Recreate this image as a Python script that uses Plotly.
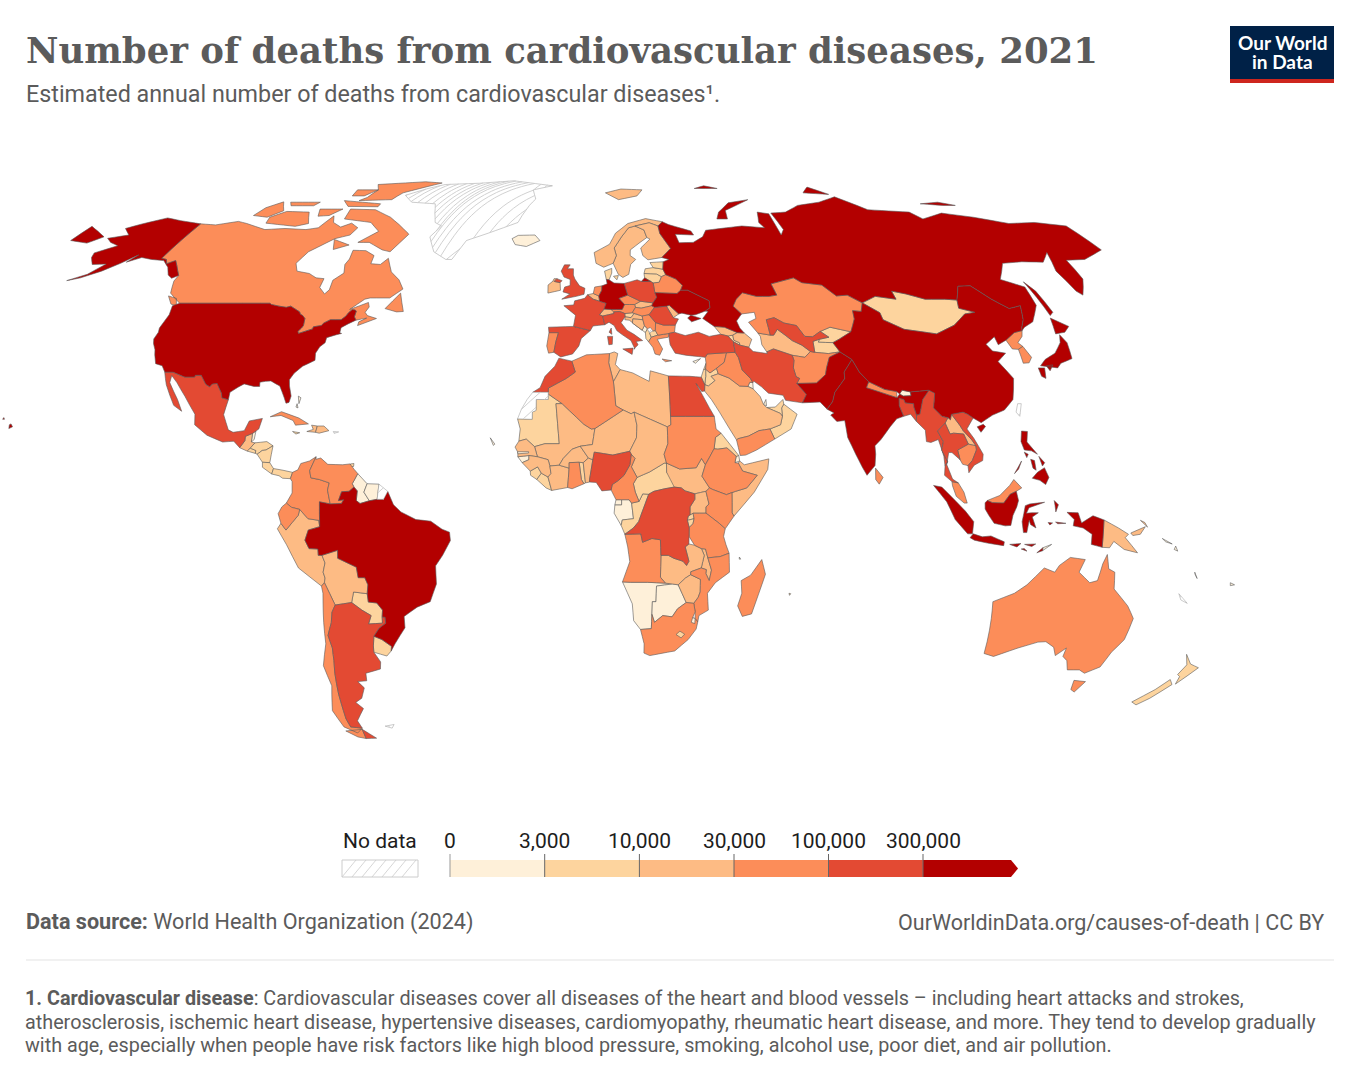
import json
import plotly.graph_objects as go

# plotly's own world topojson needs the network, so the country outlines below are
# rough hand-drawn lon/lat rings, fed to the choropleth as a custom geojson
outlines = {
    "USA": ["-124.7,48.4 -123,49 -95.2,49 -94.6,48.7 -92,48.3 -89.6,48 -88.4,48.3 -84.9,46.9 -84.5,46.4 -83.5,46 -82.5,45.3 -82.1,43.6 -82.4,43 -83.1,42.2 -82.7,41.7 -79,42.8 -79,43.3 -76.8,43.6 -76.3,44.2 -74.7,45 -71.5,45 -70.4,45.9 -70,46.7 -69.2,47.45 -68.3,47.35 -67.8,47.1 -67.8,45.7 -67,44.9 -69,44 -70.7,43.1 -70.6,41.9 -70,41.7 -71.4,41.4 -74,40.7 -74,39.5 -75.2,38.5 -75.9,37 -75.5,35.3 -77,34.6 -78.6,33.9 -80.5,32.2 -81.4,30.7 -81,29.2 -80,26.8 -80.3,25.3 -81.1,25.1 -81.9,26.5 -82.8,27.9 -83.7,29.2 -84.9,29.7 -86.5,30.4 -88,30.3 -89.5,30.1 -89.3,29.1 -90.9,29.1 -93.8,29.7 -95.3,28.9 -97.2,27.7 -97.2,25.95 -99.1,26.4 -99.5,27.5 -101.4,29.8 -102.7,29.7 -103.2,29 -104.5,29.6 -106.5,31.75 -108.2,31.75 -108.2,31.33 -111,31.33 -114.8,32.5 -117.1,32.5 -118.5,34 -120.6,34.5 -121.9,36.6 -122.5,37.8 -123.8,39.3 -124.4,40.4 -124.1,42 -124.5,43 -123.95,46.2",
            "-141,69.6 -141,60.3 -139,60 -137.5,58.9 -135.5,59.7 -133.5,58.4 -130,55.9 -131.5,55.2 -133.5,56 -136,58 -139.5,59.7 -144,60 -148,60.5 -151.5,59.3 -150,61.2 -153,59 -156.5,57 -161,55.3 -164.5,54.6 -160,56.2 -157.5,58.8 -162,58.7 -165,60.5 -166,61.7 -161,63.6 -165,64.5 -168,65.6 -162,66.5 -166.5,68.3 -163,69.5 -156.5,71.3 -150,70.5",
            "-155.9,19.1 -155,19.5 -155.6,20.2 -156,20", "-158.2,21.3 -157.7,21.3 -158,21.7"],
    "CAN": ["-141,69.6 -135,69.3 -128,70.3 -124,69.7 -115,68 -108,68.3 -100,68 -96,68.5 -94,71.9 -92,70 -88,68.7 -85,69.8 -81.5,68.5 -82.5,66.5 -87,65.5 -93,62 -94.5,59 -92.5,57 -88,56.4 -85,55.3 -82.3,55.1 -82.2,52.9 -79.7,51.3 -78.8,52.3 -79.2,54.7 -76.8,56.5 -78,58.7 -77.5,60.1 -78,62.4 -73.5,62.3 -69.8,61 -69.5,58.9 -66.2,58.7 -64.5,60.3 -61.5,56.8 -58,54.8 -55.7,52.5 -58.9,50.3 -65,50.3 -66.5,50 -70,47.5 -65,49.2 -64.3,48.1 -65,46.8 -64,46 -61,45.3 -66,43.6 -66,44.5 -64,45.4 -67,44.9 -67.8,45.7 -67.8,47.1 -68.3,47.35 -69.2,47.45 -70,46.7 -70.4,45.9 -71.5,45 -74.7,45 -76.3,44.2 -76.8,43.6 -79,43.3 -79,42.8 -82.7,41.7 -83.1,42.2 -82.4,43 -82.1,43.6 -82.5,45.3 -83.5,46 -84.5,46.4 -84.9,46.9 -88.4,48.3 -89.6,48 -92,48.3 -94.6,48.7 -95.2,49 -123,49 -125,50 -128,51.5 -130,54.5 -130,55.9 -133.5,58.4 -135.5,59.7 -137.5,58.9 -139,60 -141,60.3",
            "-123.5,48.4 -125.5,48.8 -128,50.8 -125,50.2", "-59.3,47.7 -56,51.5 -53.5,47 -55.5,46.9",
            "-61.5,66.7 -65,62 -68,62.5 -74,64.5 -78,64.5 -73,67.5 -78,70 -89,71 -90,73.9 -80,73.7 -72,71.5 -67,69.4 -62,67",
            "-117,69.8 -105,68.9 -101,69.7 -105,73 -114,73.2 -118,71.5", "-125,72 -119,71.5 -115.5,73.4 -120,76.1 -124,74.3",
            "-90,76.5 -77,76.8 -75,79 -62,82.6 -70,83.1 -90,82 -87,80 -88,77.5", "-96,76.5 -80,75.5 -80,74.6 -92,74.7",
            "-96,80 -87,80 -90,78 -95,78", "-102,73.9 -100,71.8 -96,72 -93,73.9", "-87,65.3 -80.5,63.8 -85,62.6",
            "-117,76 -105,76 -106,74.9 -115,74.9"],
    "MEX": ["-117.1,32.5 -114.8,32.5 -111,31.33 -108.2,31.33 -108.2,31.75 -106.5,31.75 -104.5,29.6 -103.2,29 -102.7,29.7 -101.4,29.8 -99.5,27.5 -99.1,26.4 -97.2,25.95 -97.8,22.4 -95.9,18.8 -94.5,18.2 -91.5,18.6 -90.5,20.9 -87,21.5 -87.6,19 -88.3,18.5 -89.15,17.95 -91,17.25 -91,16.2 -92.2,14.55 -94,16.1 -97,15.9 -101.5,17.5 -105.3,20 -105.7,22.5 -109.4,26.7 -112.7,30 -114.8,31.7 -114.7,30 -111.3,26 -109.5,23.2 -112,24.6 -115.5,29.5"],
    "GTM": ["-92.2,14.55 -91,16.2 -91,17.25 -89.15,17.95 -89.2,15.9 -88.2,15.7 -89.35,14.45 -90.1,13.75"],
    "BLZ": ["-88.3,18.5 -89.15,17.95 -89.2,15.9 -88.5,16.5"],
    "SLV": ["-90.1,13.75 -89.35,14.45 -87.75,13.9 -87.8,13.2"],
    "HND": ["-89.35,14.45 -88.2,15.7 -85,16 -83.2,15 -85,14 -86,13.9 -87.3,13 -87.8,13.2 -87.75,13.9"],
    "NIC": ["-87.3,13 -86,13.9 -85,14 -83.2,15 -83.7,11 -85.7,11.1"],
    "CRI": ["-85.7,11.1 -83.7,11 -82.6,9.6 -83,8.3 -85.6,9.9"],
    "PAN": ["-83,8.3 -82.6,9.6 -80,9.2 -77.4,8.7 -77.9,7.2 -80,7.3 -81,7.9"],
    "CUB": ["-84.9,21.9 -82,23.1 -77,21.6 -74.2,20.2 -77.7,19.9 -78.5,21 -82,22.2"],
    "HTI": ["-74.4,18.4 -72,18.2 -71.7,19.7 -73.3,19.9 -72.7,18.9"],
    "DOM": ["-71.7,19.7 -72,18.2 -71,18 -68.4,18.6 -69.9,19.7"],
    "JAM": ["-78.3,18.4 -76.3,18.1 -77.3,17.8"],
    "BHS": ["-78,26.8 -77.2,26.4 -77.5,25", "-78,25 -77.6,24 -78.2,24.2"],
    "TTO": ["-61.9,10.7 -60.95,10.8 -61,10.1 -61.9,10.05"],
    "COL": ["-71.3,12.4 -72.8,9.1 -72.4,7.4 -70.1,7 -67.4,6.2 -67.8,4.5 -67,1.2 -69.9,1.7 -69.9,-4.2 -70.1,-2.7 -73,-2.3 -75.2,-0.1 -77.4,0.4 -78.8,1.4 -77.3,3.8 -77.4,6.5 -77.9,7.2 -77.4,8.7 -76,9.3 -75.3,10.8 -73,11.4"],
    "VEN": ["-71.3,12.4 -71.3,11.8 -70,12.1 -68,10.6 -64,10.5 -62,10.7 -60.8,9.4 -59.8,8.4 -60.7,6.8 -61.2,6 -60.7,5.2 -62,4.2 -64,4.1 -64.8,2 -63.4,2.2 -64,1.3 -67,1.2 -67.8,4.5 -67.4,6.2 -70.1,7 -72.4,7.4 -72.8,9.1"],
    "GUY": ["-59.8,8.4 -57.2,6 -58,4 -56.5,1.95 -59,1.3 -60,2 -59.8,4.3 -60.7,5.2 -61.2,6 -60.7,6.8"],
    "SUR": ["-57.2,6 -54,5.9 -54.4,2.3 -56.5,1.95 -58,4"],
    "BRA": ["-51.6,4.2 -50,1 -48,-0.7 -44,-2.5 -40,-2.9 -37,-4.8 -35,-5.5 -34.8,-7.5 -37,-11 -39,-13.5 -39,-17.8 -41,-22 -44.7,-23.3 -48.5,-25.5 -48.6,-28.2 -52,-32 -53.4,-33.7 -53.1,-32.6 -55.5,-31 -57.6,-30.2 -55.8,-28.3 -53.8,-27.1 -53.8,-25.7 -54.6,-25.6 -54.3,-24 -55.7,-22.3 -58,-22.1 -58.1,-20.1 -57.7,-18 -58.4,-16.3 -60.2,-16.3 -60.5,-13.8 -65.4,-11.7 -65.3,-9.8 -69.6,-11 -70.6,-11 -70.6,-9.5 -73,-9.4 -74,-7.4 -73,-5 -69.9,-4.2 -69.9,1.7 -67,1.2 -64,1.3 -63.4,2.2 -64.8,2 -64,4.1 -62,4.2 -60.7,5.2 -59.8,4.3 -60,2 -59,1.3 -56.5,1.95 -54.4,2.3 -52.7,2.3"],
    "ECU": ["-75.2,-0.1 -77.4,0.4 -78.8,1.4 -80,0.5 -81,-1.1 -80.3,-3.4 -79,-5 -75.6,-1.5"],
    "PER": ["-75.2,-0.1 -75.6,-1.5 -79,-5 -80.3,-3.4 -81.3,-4.7 -79,-8.5 -76.2,-14 -70.4,-18.3 -69.5,-17.5 -69.2,-16.4 -69.6,-15 -68.9,-12.8 -69.6,-11 -70.6,-11 -70.6,-9.5 -73,-9.4 -74,-7.4 -73,-5 -69.9,-4.2 -70.1,-2.7 -73,-2.3"],
    "BOL": ["-69.6,-11 -68.9,-12.8 -69.6,-15 -69.2,-16.4 -69.5,-17.5 -68.4,-20 -67.2,-22.8 -62.6,-22.2 -61.8,-19.7 -58.1,-20.1 -57.7,-18 -58.4,-16.3 -60.2,-16.3 -60.5,-13.8 -65.4,-11.7 -65.3,-9.8"],
    "PRY": ["-62.6,-22.2 -61.8,-19.7 -58.1,-20.1 -58,-22.1 -55.7,-22.3 -54.3,-24 -54.6,-25.6 -54.7,-27.1 -58.6,-27.3 -57.6,-25.3 -60,-24"],
    "ARG": ["-67.2,-22.8 -62.6,-22.2 -60,-24 -57.6,-25.3 -58.6,-27.3 -54.7,-27.1 -54.6,-25.6 -53.8,-25.7 -53.8,-27.1 -55.8,-28.3 -57.6,-30.2 -58.2,-32.5 -58.4,-34 -57,-36.3 -57.5,-38 -62,-39 -62.3,-40.8 -65,-41 -63.6,-42.5 -65.3,-45 -67.5,-46 -65.8,-47.5 -69,-50.5 -68.4,-52.3 -71.9,-52 -72.3,-50 -71.8,-44 -71,-39 -70.3,-36 -69.9,-33 -70.4,-30 -68.9,-27 -68.3,-24.5",
            "-68.6,-52.6 -65.2,-54.8 -68.6,-54.9"],
    "CHL": ["-70.4,-18.3 -69.5,-17.5 -68.4,-20 -67.2,-22.8 -68.3,-24.5 -68.9,-27 -70.4,-30 -69.9,-33 -70.3,-36 -71,-39 -71.8,-44 -72.3,-50 -71.9,-52 -68.4,-52.3 -70.5,-53.5 -74,-52 -75.5,-48 -73,-42 -73.7,-37.2 -71.5,-32 -71,-27 -70.2,-20",
            "-68.6,-52.6 -68.6,-54.9 -71,-54.5 -74,-53"],
    "URY": ["-57.6,-30.2 -55.5,-31 -53.1,-32.6 -53.4,-33.7 -54.9,-34.9 -58.4,-34 -58.2,-32.5"],
    "GBR": ["-5.5,50 -1,50.7 1.4,51.2 1.7,52.7 0,53.3 -1.5,55 -2,56 -2,57.6 -4,57.6 -3.1,58.6 -5,58.6 -6,57 -5,55.5 -3,54.9 -3,53.4 -4.7,53 -5.2,51.8 -3,51.3",
            "-7.3,55.1 -5.6,54.6 -6.2,54.1 -8.1,54.4"],
    "IRL": ["-8.1,54.4 -6.2,54.1 -6,52.2 -9.9,51.5 -10,53.5 -8.5,54.5 -8.2,55.1 -7.3,55.1"],
    "PRT": ["-9,41.9 -6.2,41.9 -6.9,39.7 -7.4,37.2 -8.9,37 -9.5,38.7"],
    "ESP": ["-9,41.9 -9.2,43.2 -1.8,43.4 3.2,42.4 0.5,40.5 -0.2,38.7 -2,36.8 -5.4,36.1 -7.4,37.2 -6.9,39.7 -6.2,41.9"],
    "FRA": ["-1.8,43.4 3.2,42.4 4,43.5 7.5,43.8 7,45.9 6,46.2 7.5,47.6 8.2,49 6.2,49.5 4.2,50 2.5,51.1 1.6,50.2 -1.5,49.6 -1.8,48.6 -4.8,48.4 -1.2,46.1", "9.4,43 9.5,41.5 8.7,42"],
    "BEL": ["2.5,51.1 4.2,50 6.2,49.5 6,50.8 4.3,51.4"],
    "NLD": ["4.3,51.4 6,50.8 7,52.2 7.1,53.3 4.8,53"],
    "DEU": ["7.1,53.3 7,52.2 6,50.8 6.2,49.5 8.2,49 7.5,47.6 9.6,47.5 13,47.5 13.8,48.7 12.2,50.2 15,51 14.2,53.9 11,54 9.5,54.8 8.6,54.9 8.8,53.8"],
    "CHE": ["6,46.2 7,45.9 10.4,46.5 10.4,46.9 9.6,47.5 7.5,47.6"],
    "AUT": ["9.6,47.5 10.4,46.9 12.2,47 13.7,46.5 16,46.7 17.1,48 16.9,48.7 13.8,48.7 13,47.5"],
    "ITA": ["7.5,43.8 8.8,44.4 10.3,43.6 11,42.4 12.4,41.5 15,40 16,38 15.7,38 17,39 16.5,39.8 18.4,40 16,41.5 14,42.5 12.4,44.3 13.7,45.7 13.7,46.5 12.2,47 10.4,46.9 10.4,46.5 7,45.9",
            "12.5,38 15.5,38.2 15.1,36.7", "8.2,41 9.7,41 9.5,39.1 8.5,39"],
    "CZE": ["12.2,50.2 13.8,48.7 16.9,48.7 18.8,49.5 15,51"],
    "POL": ["14.2,53.9 15,51 18.8,49.5 22.6,49.1 24,50.5 23.6,51.6 23.5,54 22.8,54.4 19.8,54.4 18.5,54.8"],
    "SVK": ["16.9,48.7 17.1,48 18.8,47.8 22.1,48.4 22.6,49.1 18.8,49.5"],
    "HUN": ["16,46.7 18.9,45.9 21,46.2 22.9,48 22.1,48.4 18.8,47.8 17.1,48"],
    "SVN": ["13.7,45.7 15.5,45.5 16.5,46.5 16,46.7 13.7,46.5"],
    "HRV": ["13.7,45.7 15.5,45.5 16.5,46.5 18.9,45.9 19,45 16,45.2 15.8,44.2 18.5,42.5 14.9,44.9 13.6,45"],
    "BIH": ["16,45.2 19,45 19.3,43.6 18.5,42.5 15.8,44.2"],
    "SRB": ["18.9,45.9 21,46.2 22.7,44.3 22.4,42.4 21.6,42.3 21,43.1 20.1,42.8 19.3,43.6 19,45"],
    "MNE": ["18.5,42.5 19.3,43.6 20.1,42.8 19.4,41.9"],
    "ALB": ["19.4,41.9 20.1,42.8 20.6,41.9 21,40.8 20.1,39.7 19.4,40.5"],
    "MKD": ["20.6,41.9 21.6,42.3 22.4,42.4 23,41.3 21,40.8"],
    "GRC": ["20.1,39.7 21,40.8 23,41.3 26.3,41.7 26,40.8 23.8,40.5 22.7,40.3 24,38 23,36.5 21.7,36.8 21.2,38.4", "23.6,35.6 26.3,35.2 24.5,34.95"],
    "BGR": ["22.4,42.4 22.7,44.3 25,43.7 28.5,43.7 28,42 26.3,41.7 23,41.3"],
    "ROU": ["21,46.2 22.9,48 26.6,48.3 28.2,45.5 29.7,45.2 28.5,43.7 25,43.7 22.7,44.3"],
    "MDA": ["26.6,48.3 27.5,48.5 30,46.4 28.2,45.5"],
    "UKR": ["22.1,48.4 22.6,49.1 24,50.5 23.6,51.6 30.5,51.4 31.8,52.2 34,52.2 40,49.6 39.8,47.9 38.2,47.1 35,46.2 33.6,46.1 31,46.6 30,46.4 27.5,48.5 26.6,48.3 22.9,48", "33.6,46.1 36.5,45.3 33.5,44.5 32.5,45.4"],
    "BLR": ["23.6,51.6 30.5,51.4 31.8,52.2 32.7,53.4 31,55 28,56.1 26.5,55.6 25.5,54.2 23.5,54"],
    "LTU": ["21,55.3 21,56.4 25,56.3 26.5,55.6 25.5,54.2 23.5,54 22.8,54.4"],
    "LVA": ["21,56.4 21.6,57.6 24.3,57.9 27.4,57.5 28,56.1 26.5,55.6 25,56.3"],
    "EST": ["24.3,57.9 27.4,57.5 28,59.4 23.5,59.2"],
    "FIN": ["21.5,61 21.2,63 25,65.4 24,65.8 23.5,67.9 20.5,69 26,69.9 29,69 29,66.9 31.5,62.9 27.8,60.5 23,59.9"],
    "SWE": ["11.2,59 12.6,56.2 14,55.4 16,56.2 17,58.7 18.9,60 17.2,61 17.5,62.5 21.3,64.5 24,65.8 23.5,67.9 20.5,69 18,68.5 15,66 12,63 12.5,61"],
    "NOR": ["5,61.8 5.5,59 8,58 11.2,59 12.5,61 12,63 15,66 18,68.5 20.5,69 26,69.9 29,69 31,70.2 25,71.1 18,69.7 13,67 10.5,64", "11,79 16,76.8 24,78 27,80 18,80.3"],
    "DNK": ["8.6,54.9 9.5,54.8 10.5,56.5 10.6,57.7 8.2,57", "11,55.7 12.6,55.9 12,54.8"],
    "ISL": ["-24,65.5 -22,66.4 -16,66.5 -14,65 -18.5,63.4 -22.5,63.9"],
    "RUS": ["31,70.2 29,69 29,66.9 31.5,62.9 27.8,60.5 30,60 28,59.4 27.4,57.5 28,56.1 31,55 32.7,53.4 31.8,52.2 34,52.2 40,49.6 39.8,47.9 38.2,47.1 39,47 37,45.3 40,43.4 43,43.2 46.5,41.9 48.5,41.8 47.5,43 47,44.7 49,46.4 47,48.3 48.5,50 51,51.6 55,50.7 59,50.7 61.5,51 61,53.8 69,55.3 71,54.1 77,53.5 80,50.8 83.5,51 87,49.1 92,50.7 98,50 98,52 102,51.3 107,50 113,50 116.7,49.8 120,53.2 124,53.3 127.5,50 131,47.7 135,48.4 133,45 131,43 130.7,42.4 132,43.2 135.5,44.5 140,48.5 140.5,51 141,53 138,54 135.3,54.9 141,59 148,59.4 155,59.3 160,61.8 156,57 156,52 157,51 162,55 163.5,59.8 170,60 179.9,62.5 179.9,69 170,70 160,69.7 150,71.5 140,72.7 130,71 128,73 113,73.7 106,77.7 97,76 87,75 80,73 74,72.7 74.5,68 72.5,66.5 72.7,70 73,72.5 69,73 67,70 68,68.5 60,69 54,68.5 46,67.8 44,66 40,64.5 35,64.4 34.5,66.7 41,66.5 40.5,67.6 33,69.4",
            "-180,65 -180,68.9 -175,67.5 -170,66 -173,64.3", "52,71 56,71 57,73.5 69,76.8 60,75.8 54,73", "95,79 105,78.5 100,81",
            "142,54.3 143.3,52 143.5,46.8 142,46 142,50.5", "137,75.5 145,75 150,75 145,76", "50,80.5 60,80.5 55,81.5",
            "19.8,54.4 22.8,54.4 21,55.3"],
    "GEO": ["40,43.4 43,43.2 46.5,41.9 45,41.3 43.5,41.1 41.5,41.5"],
    "ARM": ["43.5,41.1 45,41.3 45,40.1 46.5,39.5 46.5,38.9 44.8,39.7"],
    "AZE": ["46.5,41.9 48.5,41.8 50.3,40.3 49,38.4 46.5,38.9 46.5,39.5 45,40.1 45,41.3"],
    "TUR": ["26.3,41.7 28,42 31,41.2 35,42 38,41 41.5,41.5 43.5,41.1 44.8,39.7 44.8,37.2 42.3,37.1 36.7,36.8 36,36 34,36.2 30.5,36.5 27.5,37 26.3,39 26.2,40.5"],
    "CYP": ["32.3,35 34.6,35.7 33,34.6"],
    "SYR": ["36,36 36.7,36.8 42.3,37.1 41.2,34.8 38.8,33.4 36.8,32.3 35.7,33.2 36,34.6"],
    "LBN": ["36,34.6 35.7,33.2 35.1,33.1"],
    "ISR": ["35.1,33.1 35.7,33.2 35.5,31.5 35,29.5 34.2,31.3"],
    "JOR": ["35.7,33.2 36.8,32.3 38.8,33.4 39.1,32.1 37,31.5 38,30.5 36,29.2 35,29.5 35.5,31.5"],
    "IRQ": ["42.3,37.1 44.8,37.2 45.5,35.9 46,33 48,31 48.5,30 47.7,30.1 47,29.1 44.7,29.2 42,31.1 39.1,32.1 38.8,33.4 41.2,34.8"],
    "KWT": ["48.5,30 47.7,30.1 47,29.1 48.4,28.5"],
    "SAU": ["35,29.5 36,29.2 38,30.5 37,31.5 39.1,32.1 42,31.1 44.7,29.2 47,29.1 48.4,28.5 50.1,26.7 50.8,24.8 51.6,24.1 55.2,22.7 55.7,22 55,20 52,19 49,18.6 46,17.3 43.2,16.7 42.7,16.4 41,19 38.5,23 36.5,26 34.8,28"],
    "YEM": ["43.2,16.7 46,17.3 49,18.6 52,19 53.1,16.6 48,14 45,12.8 43.5,12.7 42.7,16.4"],
    "OMN": ["55.7,22 55,20 52,19 53.1,16.6 57.8,19 59.8,22.5 56.4,24.9 55.7,24"],
    "ARE": ["51.6,24.1 54,24.2 56.3,26 56.4,24.9 55.7,24 55.7,22 55.2,22.7"],
    "QAT": ["50.8,24.8 51.6,26 51.6,24.5"],
    "IRN": ["44.8,39.7 46.5,38.9 49,38.4 50,37.4 54,36.9 53.9,37.3 56,38 61,36.5 61.2,35.3 60.6,33.5 60.9,31.4 61.8,31 60.8,29.8 63,27.2 61.6,25.2 57,25.8 56.5,27 52.5,27.5 50.8,29 48.9,30.3 48.5,30 48,31 46,33 45.5,35.9 44.8,37.2"],
    "TKM": ["53.9,37.3 52.9,39 53,41 52.5,41.8 56,41.3 57,41.3 58.5,42.7 60.5,41.2 62,40 64.5,38.9 66.5,37.4 64.5,36 61,36.5 56,38"],
    "UZB": ["56,41.3 56,45 58.5,45.5 61,44.2 64.5,43.6 66,41 68.3,40.9 71,42.2 73,40.8 70,40.3 68,39.8 67.7,37.2 66.5,37.4 64.5,38.9 62,40 60.5,41.2 58.5,42.7 57,41.3"],
    "KAZ": ["49,46.4 47,48.3 48.5,50 51,51.6 55,50.7 59,50.7 61.5,51 61,53.8 69,55.3 71,54.1 77,53.5 80,50.8 83.5,51 87,49.1 85.5,47 83,47.2 82.5,45.2 80,42.1 74.3,43.2 71,42.2 68.3,40.9 66,41 64.5,43.6 61,44.2 58.5,45.5 56,45 56,41.3 52.5,41.8 50.5,44.4 53,45.3 53,46.8"],
    "KGZ": ["71,42.2 74.3,43.2 80,42.1 76,40.4 73.7,39.5 69.5,39.6 70,40.3 73,40.8"],
    "TJK": ["67.7,37.2 68,39.8 70,40.3 69.5,39.6 73.7,39.5 75,37.3 71.5,36.9"],
    "AFG": ["61.2,35.3 61,36.5 64.5,36 66.5,37.4 67.7,37.2 71.5,36.9 75,37.3 71.5,36 70,33.5 69.3,31.9 66.3,29.9 60.8,29.8 61.8,31 60.9,31.4 60.6,33.5"],
    "PAK": ["61.6,25.2 63,27.2 60.8,29.8 66.3,29.9 69.3,31.9 70,33.5 71.5,36 75,37.3 77.8,35.5 74.7,32.5 74.5,31 71,27.7 70,25.5 68.2,23.7 66.5,25.4"],
    "IND": ["68.2,23.7 70,25.5 71,27.7 74.5,31 74.7,32.5 77.8,35.5 79,32.5 81,30.2 80,28.8 88,26.4 88.9,27.3 89.8,26.8 92,26.9 92,27.8 97.3,28.2 95,26 93.5,22.5 92.6,22.3 92.2,24.2 92.3,25 90,25.2 89.8,26 88.5,26.3 88.2,24.5 89,22 87,21.4 85,19.6 82,16.5 80.2,15 80.2,13 79.8,10.3 77.5,8 76.3,10 74.8,13 73,17 72.7,21 70.5,20.8 69,22.3 70,22.8"],
    "BGD": ["89.8,26 90,25.2 92.3,25 92.2,24.2 92.6,22.3 92.3,20.8 91,22.5 89,22 88.2,24.5 88.5,26.3"],
    "NPL": ["80,28.8 81,30.2 85,28.4 88.2,27.9 88,26.4"],
    "BTN": ["88.9,27.3 89.8,28.2 92,27.8 92,26.9 89.8,26.8"],
    "LKA": ["79.9,9.7 81.8,7.5 80.7,5.9 79.8,7"],
    "CHN": ["73.7,39.5 76,40.4 80,42.1 82.5,45.2 83,47.2 85.5,47 87,49.1 91,46.7 91,45 96,42.7 105,41.6 111.5,43.7 116.5,46.4 119.9,46.8 115.7,47.8 116.7,49.8 120,53.2 124,53.3 127.5,50 131,47.7 135,48.4 133,45 131,43 130.7,42.4 128,41.9 124.4,40.1 121.5,39 121.5,40.9 118,39.1 119,37.5 122.5,37 119.3,35 121.9,31 120,26 117,23.5 113.5,22.3 110,20.5 108,21.6 106.7,22.5 105.5,23 102.2,22.5 101.7,21.2 101.1,21.7 99.5,22 97.6,24 98.7,27.5 97.3,28.2 92,27.8 89.8,28.2 88.9,27.3 88.2,27.9 85,28.4 81,30.2 79,32.5 77.8,35.5 75,37.3",
            "108.7,19.5 110.5,20.1 111,19.6 109.5,18.2"],
    "MNG": ["87,49.1 92,50.7 98,50 98,52 102,51.3 107,50 113,50 116.7,49.8 115.7,47.8 119.9,46.8 116.5,46.4 111.5,43.7 105,41.6 96,42.7 91,45 91,46.7"],
    "PRK": ["124.4,40.1 128,41.9 130.7,42.4 129.7,41 127.5,39.5 128.4,38.6 126.7,37.9 125,38"],
    "KOR": ["126.7,37.9 128.4,38.6 129.4,36 128,34.7 126.3,34.6"],
    "JPN": ["130.9,34 135.5,33.5 137,34.6 140.8,35.7 141.8,39.5 141,41.4 139.8,39.5 136.7,37 133,35.5", "140,41.6 141.5,45.4 145.3,43.4 143,42", "130,33.5 131.8,33.5 131,31 130,31.5", "132.5,34 134.5,34.2 133,32.8"],
    "MMR": ["92.3,20.8 92.6,22.3 93.5,22.5 95,26 97.3,28.2 98.7,27.5 97.6,24 99.5,22 101.1,21.7 100.1,20.4 97.7,18.5 98.9,16 98.2,14 99.5,11.2 98.7,10.2 98.6,12.5 97.6,16.5 95.5,15.8 94.3,16 94.4,18.7"],
    "THA": ["100.1,20.4 101,17.8 102,18 104.7,17.8 105.6,15.4 102.5,14 102.9,11.7 100.9,13.4 100,13.4 99.2,10.5 100.5,7.1 102,6.2 100.3,6.5 98.4,8 98.7,10.2 99.5,11.2 98.2,14 98.9,16 97.7,18.5"],
    "LAO": ["100.1,20.4 101.1,21.7 101.7,21.2 102.2,22.5 104,19.9 104.7,18.6 106.7,16.4 107.6,15 105.6,15.4 104.7,17.8 102,18 101,17.8"],
    "VNM": ["102.2,22.5 105.5,23 106.7,22.5 108,21.6 105.8,19 107.3,16.8 109.3,13 109,11.5 106.6,10.4 105,8.6 104.9,10.3 106.2,11.5 107.6,14 107.6,15 106.7,16.4 104.7,18.6 104,19.9"],
    "KHM": ["102.9,11.7 102.5,14 105.6,15.4 107.6,15 107.6,14 106.2,11.5 104.9,10.3 103.5,10.6"],
    "MYS": ["100.3,6.5 102,6.2 103.4,4 104.2,1.4 103.4,1.4 101.3,3 100.4,5.5",
            "109.6,2 111,1.5 114,1.4 115.8,3.5 117.5,4.2 119,5 117,7 115.8,5.6 113,3.2 111.5,2.7"],
    "IDN": ["109,1.5 109.6,2 111,1.5 114,1.4 115.8,3.5 117.5,4.2 118,2 117.5,0.5 116.5,-1.5 116,-3.9 114.5,-4 111.5,-3.4 110,-1.5 109,0",
            "95.3,5.6 97.5,5.2 103.7,-0.5 106,-3 105.8,-5.9 104.5,-5.9 101,-2.5 98.7,1.7",
            "105.2,-6.8 106,-5.9 108.5,-6.6 110.8,-6.4 114.5,-7.8 114.4,-8.7 110,-8.1 106.4,-7.4",
            "119.5,-5.6 119,-3 119.8,0.8 121,1.2 125,1.6 120.8,0.3 120.1,-1 121.5,-0.9 123.3,-0.9 121.7,-1.9 122.8,-4.5 121.3,-3.7 120.9,-2.7 120.4,-5.6",
            "123.5,-10.4 125,-9.2 125,-9.9", "116,-8.4 119,-8.2 118,-9", "120,-8.4 123,-8.3 122,-8.9", "119.2,-9.5 120.8,-10 120,-9.4",
            "127.6,2 128.7,1 128,-0.7 127.8,0.8", "128,-3.1 130.8,-3.4 128.6,-3.5", "126,-3.2 127.2,-3.3 126.5,-3.8",
            "141,-2.6 138,-1.6 135,-3.3 134,-0.9 131,-0.8 133,-2.5 132.8,-4 135.5,-4.5 138,-6 138,-8.4 141,-9.1"],
    "TLS": ["125,-9.2 127.3,-8.4 125,-9.9"],
    "PNG": ["141,-2.6 145,-4.5 147.8,-6 147,-6.8 150.7,-10.4 147,-9.6 144,-7.7 143,-9.2 141,-9.1", "148.4,-5.7 152.2,-4.2 151,-6 149,-6.3", "150.8,-2.7 152.8,-4.3 152,-3.2"],
    "SLB": ["157,-7 159.8,-8.3 158,-7.8", "160.8,-8.8 161.5,-10 160.5,-9.6"],
    "VUT": ["167.2,-15.5 167,-15 168,-16.5"],
    "FJI": ["177.3,-17.5 178.6,-18 177.5,-18.2"],
    "PHL": ["120.6,18.5 122.2,18.4 121.6,15.9 124,13 122.5,13.8 120.6,14 120,16", "122,7.3 123.5,8.7 125.5,9.8 126.5,7.5 125.5,5.8 124,6.8",
            "117.3,8.4 119.5,11.4 118.5,9.5", "124.3,12.5 125.7,11 125,10.2", "122,11.8 123,11.5 123.2,9.2 122.4,9.7", "120.5,13.5 121.5,13 121,12.2"],
    "AUS": ["113.5,-22 114,-26 115,-34.3 118,-35 124,-33 129,-31.6 131.2,-31.5 134,-32.8 135.5,-34.8 137.7,-33 137.8,-35 139.5,-36 141,-38.2 144.5,-38.2 146.5,-39 150,-37.5 151,-34 153,-31 153.3,-26 150.8,-23 146,-19 145.3,-15 143.5,-14.2 142.6,-10.8 141.7,-13 141,-17 139,-17.5 135.6,-15 136.8,-12 132.7,-11.5 130,-13.4 129,-15 126,-14 122,-18 119,-20",
            "144.7,-40.7 148.3,-41 147,-43.5 145.5,-42.9"],
    "NZL": ["172.7,-34.5 175.5,-36.8 178.5,-37.7 175.2,-41.6 174.8,-39.8 173.8,-39.3 174.6,-37", "172.7,-40.5 174.3,-41.7 171,-45 168.5,-46.6 166.5,-45.9 170.5,-42.9"],
    "MAR": ["-5.9,35.8 -2.2,35.1 -1.2,32.5 -3.7,31 -8.7,28.7 -8.7,27.7 -13,27.7 -11,28.8 -9.7,31.5 -7,33.9"],
    "DZA": ["-2.2,35.1 2,36.6 8.6,36.9 8.3,34.7 9,32.1 9.5,30.2 10,24.5 12,23.5 4.2,19.1 3.2,19 1.2,20.1 -4.8,25 -8.7,27.3 -8.7,27.7 -8.7,28.7 -3.7,31 -1.2,32.5"],
    "TUN": ["8.6,36.9 10,37.3 11,36.9 10.2,34.3 11.5,33.1 9.5,30.2 9,32.1 8.3,34.7"],
    "LBY": ["11.5,33.1 15,32.3 19.5,30.3 20,32.8 25,31.6 25,22 25,20 24,19.5 15,23 14.2,22.6 12,23.5 10,24.5 9.5,30.2"],
    "EGY": ["25,31.6 31,31.5 34.2,31.3 35,29.5 34.8,28 34,27.9 32.6,29.8 35.8,24 37,22 31.2,22 25,22"],
    "SDN": ["25,22 31.2,22 37,22 37.3,19 38.6,18 37,17 36.5,14.3 34,10.5 33,12 31.5,9.8 27,9.5 23.5,10.9 22.9,13 24,15.5 24,19.5 25,20"],
    "SSD": ["23.5,10.9 27,9.5 31.5,9.8 33,12 34,10.5 33,7.8 35,5 34,4.2 31,3.6 28.4,4.3 27.4,5 25.5,5.2 23.5,8.7"],
    "ERI": ["36.5,14.3 37,17 38.6,18 43.1,12.7 42.4,12.5 40,14.5 37.5,14.2"],
    "DJI": ["42.4,12.5 43.1,12.7 43.3,11.4 42,11"],
    "ETH": ["36.5,14.3 37.5,14.2 40,14.5 42.4,12.5 42,11 42.9,10.9 44,9 47.9,8 45,5 42,4.2 41,3.9 39.5,3.4 35.9,4.6 35,5 33,7.8 34,10.5"],
    "SOM": ["43.3,11.4 44.5,10.5 51.2,11.9 50.8,9.4 47,4 41.5,-1.7 41,-0.9 41,3.9 42,4.2 45,5 47.9,8 44,9 42.9,10.9"],
    "KEN": ["35,5 35.9,4.6 39.5,3.4 41,3.9 41,-0.9 41.5,-1.7 39.2,-4.7 37.7,-3.5 34,-1 34,0.5 34.8,1.2 34,4.2"],
    "UGA": ["31,3.6 34,4.2 34.8,1.2 34,0.5 34,-1 30.5,-1 29.7,-1.4 29.7,0.5 31,2.3"],
    "RWA": ["29.7,-1.4 30.5,-1 30.8,-2.3 29,-2.7 29.2,-1.7"],
    "BDI": ["29,-2.7 30.8,-2.3 30.5,-3.5 29.5,-4.4"],
    "TZA": ["30.5,-1 34,-1 37.7,-3.5 39.2,-4.7 38.8,-6.5 39.5,-8.5 40.4,-10.5 38,-11.3 34.7,-11.6 34,-9.5 32.9,-9.4 31,-8.6 29.5,-6.5 29.5,-4.4 30.5,-3.5 30.8,-2.3"],
    "MOZ": ["40.4,-10.5 40.7,-15 37,-17.5 35,-20 35.5,-24 33,-25.3 32.8,-26.8 32,-26 31.9,-24.4 31.4,-22.4 32.5,-21 33,-19.7 32.9,-16.7 30.2,-15.6 30.2,-14.9 33,-14 34.4,-14.4 34.3,-15.3 35.3,-17 35.8,-14.5 34.7,-11.6 38,-11.3"],
    "MWI": ["34,-9.5 34.7,-11.6 35.8,-14.5 35.3,-17 34.3,-15.3 34.4,-14.4 33,-14 33.7,-11 32.9,-9.4"],
    "ZMB": ["22,-11 24,-11 25.5,-11.7 28,-12.4 29,-13.4 29.6,-12.4 28.5,-9 29.5,-8.3 31,-8.6 32.9,-9.4 33.7,-11 33,-14 30.2,-14.9 30.2,-15.6 28.8,-16.4 26.9,-18 25.3,-17.8 23.4,-17.6 22,-16.2"],
    "COD": ["12.2,-6 16.5,-5.9 17,-7.9 19.5,-7 21.8,-7.3 22,-11 24,-11 25.5,-11.7 28,-12.4 29,-13.4 29.6,-12.4 28.5,-9 29.5,-8.3 29.5,-6.5 29.5,-4.4 29,-2.7 29.2,-1.7 29.7,-1.4 29.7,0.5 31,2.3 31,3.6 28.4,4.3 27.4,5 25.5,5.2 22.9,4.8 20,4.2 18.6,3.5 16.5,-1.5 15.9,-3 14.5,-4.5"],
    "COG": ["11.2,-3.9 12.2,-6 14.5,-4.5 15.9,-3 16.5,-1.5 18.6,3.5 17,3.6 16,1.8 14,1.4 14.5,-2.3 11.5,-2.6"],
    "GAB": ["9.3,-1 9.5,1 11.3,1 11.3,2.2 13.3,2.2 14,1.4 14.5,-2.3 11.5,-2.6 11.2,-3.9"],
    "GNQ": ["9.5,1 9.8,2.2 11.3,2.2 11.3,1"],
    "CMR": ["8.5,4.5 9.8,2.2 11.3,2.2 13.3,2.2 14,1.4 16,1.8 15,4 14.5,6 15.5,7.5 14,10 15,12 14,13 13.6,10.5 12,8 10.5,6.8 8.8,5.8"],
    "CAF": ["14.5,6 15,4 16,1.8 17,3.6 18.6,3.5 20,4.2 22.9,4.8 25.5,5.2 27.4,5 23.5,8.7 23.5,10.9 22.9,10.9 18.9,8.8 15.5,7.5"],
    "AGO": ["12.2,-6 16.5,-5.9 17,-7.9 19.5,-7 21.8,-7.3 22,-11 22,-16.2 23.4,-17.6 18.5,-17.4 13.9,-17.4 11.7,-17.3 13.6,-12.5 13,-9"],
    "NAM": ["11.7,-17.3 13.9,-17.4 18.5,-17.4 23.4,-17.6 25.3,-17.8 21,-18.3 21,-22 20,-22 20,-25 20,-28.4 17,-28.6 15,-26.5 14.5,-22.5"],
    "BWA": ["21,-18.3 25.3,-17.8 26.9,-18 29.3,-22.2 27,-23.7 25.6,-25.6 23,-25.3 20.8,-26.9 20,-25 20,-22 21,-22"],
    "ZWE": ["26.9,-18 28.8,-16.4 30.2,-15.6 32.9,-16.7 33,-19.7 32.5,-21 31.4,-22.4 29.3,-22.2"],
    "ZAF": ["17,-28.6 20,-28.4 20,-25 20.8,-26.9 23,-25.3 25.6,-25.6 27,-23.7 29.3,-22.2 31.4,-22.4 31.9,-24.4 31.3,-25.8 32,-26 32.8,-26.8 32.5,-28.5 30.5,-31 27,-33.7 25,-34 20,-34.8 18.3,-34.2 18.2,-32"],
    "LSO": ["28,-29 29.4,-29.7 28.5,-30.6 27,-29.8"],
    "SWZ": ["31.3,-25.8 32,-26 32,-27.2 31,-26.9"],
    "MDG": ["49.3,-12 50.5,-15.5 47.5,-24.9 45,-25.5 43.5,-23 44.4,-20 44,-17 46.5,-15.7"],
    "MRT": ["-17,21.4 -13,21.3 -13,23 -12,23.4 -12,26 -8.7,26 -8.7,27.3 -4.8,25 -6.5,25 -5.5,15.5 -9.4,15.5 -12.2,14.8 -14.5,16.6 -16.5,16.1 -16.2,19"],
    "MLI": ["-4.8,25 -6.5,25 -5.5,15.5 -9.4,15.5 -12.2,14.8 -11.4,12.4 -8.5,11.7 -8,10.2 -5.5,10.4 -4.4,12 -2,14.2 0.2,14.9 3.5,15.3 4.2,19.1 3.2,19 1.2,20.1"],
    "SEN": ["-16.5,16.1 -14.5,16.6 -12.2,14.8 -11.4,12.4 -13.7,12.7 -16.7,12.4 -16.7,13.1 -16.8,13.6 -17.5,14.7"],
    "GMB": ["-16.8,13.6 -13.8,13.6 -13.8,13.3 -16.7,13.1"],
    "GNB": ["-16.7,12.4 -13.7,12.7 -13.7,11.7 -15.5,11"],
    "GIN": ["-13.7,12.7 -11.4,12.4 -8.5,11.7 -8,10.2 -7.7,8.4 -8.5,7.6 -10.3,8.5 -11.3,10 -13.3,9 -15.5,11 -13.7,11.7"],
    "SLE": ["-13.3,9 -11.3,10 -10.3,8.5 -11.5,7 -13.2,8"],
    "LBR": ["-11.5,7 -10.3,8.5 -8.5,7.6 -7.5,4.4 -9,5"],
    "CIV": ["-8.5,7.6 -7.7,8.4 -8,10.2 -5.5,10.4 -2.8,9.7 -3.2,5.1 -7.5,4.4"],
    "BFA": ["-5.5,10.4 -4.4,12 -2,14.2 0.2,14.9 2.4,12.1 1,11 -0.1,11.1 -2.8,11 -2.8,9.7"],
    "GHA": ["-2.8,11 -0.1,11.1 0.5,7 1.2,6 -2,4.8 -3.2,5.1 -2.8,9.7"],
    "TGO": ["-0.1,11.1 1,11 1.6,6.2 1.2,6 0.5,7"],
    "BEN": ["1,11 2.4,12.1 3.6,11.7 2.7,7 2.7,6.4 1.6,6.2"],
    "NGA": ["2.7,6.4 2.7,7 3.6,11.7 4,13.5 9,12.8 13.6,13.7 14,13 13.6,10.5 12,8 10.5,6.8 8.8,5.8 8.5,4.5 6,4.3 4.5,6.3"],
    "NER": ["0.2,14.9 3.5,15.3 4.2,19.1 12,23.5 14.2,22.6 15,23 15.7,19.9 15.5,16.9 13.6,13.7 9,12.8 4,13.5 3.6,11.7 2.4,12.1"],
    "TCD": ["15,23 24,19.5 24,15.5 22.9,13 23.5,10.9 22.9,10.9 18.9,8.8 15.5,7.5 14,10 15,12 14,13 13.6,13.7 15.5,16.9 15.7,19.9"],
    "CPV": ["-24.3,16.9 -23.4,15.1 -23,15.4"],
    "MUS": ["57.3,-20 57.8,-20.1 57.5,-20.5"],
    "COM": ["43.2,-11.4 43.6,-11.9 43.2,-11.9"],
    "WSM": ["-172.7,-13.5 -171.5,-13.9 -172.3,-13.9"],
}

band_0_3k = ["ISL", "BHS", "BLZ", "GUY", "SUR", "CYP", "MNE", "KWT", "QAT", "BTN", "TLS", "SLB", "VUT", "FJI", "DJI", "GAB", "GNQ", "NAM", "BWA", "SWZ", "GMB", "GNB", "CPV", "COM", "WSM"]
band_3k_10k = ["JAM", "TTO", "SLV", "HND", "NIC", "CRI", "PAN", "PRY", "URY", "SVN", "ALB", "MKD", "LTU", "LVA", "EST", "DNK", "ARM", "LBN", "JOR", "ISR", "OMN", "ARE", "KGZ", "TJK", "MNG", "NZL", "ERI", "RWA", "BDI", "COG", "CAF", "LSO", "MRT", "SLE", "LBR", "TGO", "MUS"]
band_10k_30k = ["GTM", "HTI", "DOM", "PER", "BOL", "IRL", "BEL", "CHE", "SVK", "HRV", "BIH", "MDA", "SWE", "NOR", "FIN", "GEO", "AZE", "SAU", "TKM", "LAO", "PNG", "TUN", "LBY", "SSD", "SOM", "UGA", "MWI", "ZMB", "ZWE", "MLI", "SEN", "GIN", "CIV", "BFA", "BEN", "NER", "TCD"]
band_30k_100k = ["CAN", "CUB", "COL", "VEN", "ECU", "CHL", "PRT", "NLD", "AUT", "CZE", "HUN", "SRB", "GRC", "BGR", "BLR", "SYR", "IRQ", "YEM", "KAZ", "AFG", "NPL", "LKA", "PRK", "KOR", "KHM", "MYS", "AUS", "DZA", "SDN", "ETH", "KEN", "TZA", "MOZ", "CMR", "AGO", "ZAF", "MDG", "GHA"]
band_100k_300k = ["MEX", "ARG", "GBR", "ESP", "FRA", "ITA", "POL", "ROU", "TUR", "IRN", "UZB", "BGD", "MMR", "THA", "VNM", "MAR", "EGY", "COD", "NGA"]
band_300k_up = ["USA", "BRA", "RUS", "DEU", "UKR", "PAK", "IND", "CHN", "JPN", "IDN", "PHL"]
bands = [band_0_3k, band_3k_10k, band_10k_30k, band_30k_100k, band_100k_300k, band_300k_up]

band_colors = ["#fef0d9", "#fdd49e", "#fdbb84", "#fc8d59", "#e34a33", "#b30000"]
legend_ticks = ["0", "3,000", "10,000", "30,000", "100,000", "300,000"]

no_data = {
    "GRL": ["-73,78.2 -68,76 -58,75.5 -54,70 -51,69 -53.5,66 -50,62 -45,60 -43,60 -40,65 -33,67 -23,70 -22,72 -20,75 -18,77 -20,80 -12,81.5 -30,83.5 -45,82.5 -60,82 -66,80.5"],
    "ESH": ["-13,27.7 -8.7,27.7 -8.7,26 -12,26 -12,23.4 -13,23 -13,21.3 -17,21.4 -16,23.7 -14.5,26"],
    "GUF": ["-54,5.9 -51.6,4.2 -52.7,2.3 -54.4,2.3"],
    "TWN": ["121,25 122,25 120.9,22 120.1,23"],
    "XKX": ["20.1,42.8 21,43.1 21.6,42.3 20.6,41.9"],
    "FLK": ["-61,-51.8 -58,-51.4 -59,-52.3"],
    "PRI": ["-67.2,18.4 -65.7,18.3 -66.9,17.95"],
    "NCL": ["164,-20.1 167,-22.4 165,-21.6"],
}


def parse_ring(text):
    pts = [[float(v) for v in p.split(",")] for p in text.split()]
    # d3 wants the outer ring clockwise or it fills the rest of the globe
    area = sum(a[0] * b[1] - b[0] * a[1] for a, b in zip(pts, pts[1:] + pts[:1]))
    if area > 0:
        pts.reverse()
    # split long edges, d3 bends them along great circles and borders like 49N bow upwards
    out = []
    for a, b in zip(pts, pts[1:] + pts[:1]):
        n = int(max(abs(b[0] - a[0]), abs(b[1] - a[1])) // 3) + 1
        for k in range(n):
            out.append([a[0] + (b[0] - a[0]) * k / n, a[1] + (b[1] - a[1]) * k / n])
    return out + [out[0]]


def make_geojson(table):
    feats = []
    for code, rings in table.items():
        coords = [[parse_ring(r)] for r in rings]
        feats.append({"type": "Feature", "id": code, "properties": {}, "geometry": {"type": "MultiPolygon", "coordinates": coords}})
    return {"type": "FeatureCollection", "features": feats}


def hatch_lines(table, step=2.7, squeeze=0.8):
    # diagonal hatching clipped to each no data ring
    lons, lats = [], []
    for rings in table.values():
        for text in rings:
            pts = parse_ring(text)
            us = [p[1] - p[0] * squeeze for p in pts]
            k = int(min(us) // step)
            while k * step < max(us):
                u = k * step + step / 2
                hits = []
                for a, b, ua, ub in zip(pts, pts[1:], us, us[1:]):
                    if (ua - u) * (ub - u) < 0:
                        t = (u - ua) / (ub - ua)
                        hits.append((a[0] + t * (b[0] - a[0]), a[1] + t * (b[1] - a[1])))
                hits.sort()
                for p, q in zip(hits[::2], hits[1::2]):
                    lons += [p[0], q[0], None]
                    lats += [p[1], q[1], None]
                k += 1
    return lons, lats


codes = []
levels = []
for i, band in enumerate(bands):
    for c in band:
        codes.append(c)
        levels.append(i)
# enclaves have to be drawn after the country around them
order = sorted(range(len(codes)), key=lambda k: codes[k] in ("LSO", "SWZ", "GMB"))
codes = [codes[k] for k in order]
levels = [levels[k] for k in order]

fig = go.Figure()
fig.add_trace(go.Choropleth(
    geojson=make_geojson(outlines), locations=codes, z=levels, featureidkey="id",
    zmin=0, zmax=5, showscale=False,
    colorscale=[[i / 5, c] for i, c in enumerate(band_colors)],
    marker_line_color="#5b5b5b", marker_line_width=0.6,
))
fig.add_trace(go.Choropleth(
    geojson=make_geojson(no_data), locations=list(no_data), z=[0] * len(no_data), featureidkey="id",
    showscale=False, colorscale=[[0, "white"], [1, "white"]],
    marker_line_color="#999999", marker_line_width=0.5,
))
hatch_lon, hatch_lat = hatch_lines(no_data)
fig.add_trace(go.Scattergeo(lon=hatch_lon, lat=hatch_lat, mode="lines", line=dict(color="#cccccc", width=0.9), hoverinfo="skip", showlegend=False))

W, H = 1360, 1082
map_mid_y = 509
fig.update_geos(
    # domain centred on the equator's row, plotly clips the map to the fitted box otherwise
    domain=dict(x=[0, 1], y=[1 - (map_mid_y + 400) / H, 1 - (map_mid_y - 400) / H]),
    projection=dict(type="robinson", rotation=dict(lon=0), scale=0.985),
    center=dict(lon=27, lat=0),
    lonaxis=dict(range=[-180, 180], showgrid=False), lataxis=dict(range=[-90, 90], showgrid=False),
    showframe=False, showcoastlines=False, showland=False, showocean=False, showlakes=False, showcountries=False,
    bgcolor="rgba(0,0,0,0)",
)


def px(x):
    return x / W


def py(y):
    return 1 - y / H


def note(text, x, y, size, color="#5b5b5b", family="Roboto", anchor="left", height=None):
    fig.add_annotation(text=text, x=px(x), y=py(y), xref="paper", yref="paper", showarrow=False,
                       xanchor=anchor, yanchor="middle", align=anchor, height=height,
                       font=dict(family=family, size=size, color=color), borderpad=0, borderwidth=0)


def box(x0, y0, x1, y1, fill, line=None, width=0):
    fig.add_shape(type="rect", xref="paper", yref="paper", x0=px(x0), x1=px(x1), y0=py(y1), y1=py(y0),
                  fillcolor=fill, line=dict(color=line, width=width) if line else dict(width=0))


def segment(x0, y0, x1, y1, color, width=1):
    fig.add_shape(type="line", xref="paper", yref="paper", x0=px(x0), x1=px(x1), y0=py(y0), y1=py(y1),
                  line=dict(color=color, width=width))


note("<b>Number of deaths from cardiovascular diseases, 2021</b>", 26, 50, 35.5, family="DejaVu Serif")
note("Estimated annual number of deaths from cardiovascular diseases¹.", 26, 94, 23.3)

# logo
box(1230, 26, 1334, 79, "#002147")
box(1230, 79, 1334, 83, "#ce261e")
note("<b>Our World</b>", 1282, 43, 19, color="white", family="Lato", anchor="center", height=17)
note("<b>in Data</b>", 1282, 62, 19, color="white", family="Lato", anchor="center", height=17)

# legend
tick_x = [450, 544.7, 639.4, 734, 828.5, 923]
bar_end = [544.7, 639.4, 734, 828.5, 923, 1011]
for i, c in enumerate(band_colors):
    box(tick_x[i], 860, bar_end[i], 877, c)
fig.add_shape(type="path", xref="paper", yref="paper", fillcolor=band_colors[-1], line=dict(width=0),
              path=f"M {px(1011)} {py(860)} L {px(1018)} {py(868.5)} L {px(1011)} {py(877)} Z")
for x, label in zip(tick_x, legend_ticks):
    segment(x, 854, x, 877, "#999999" if x == 450 else "#666666", 1)
    note(label, x, 841, 21, color="#1d1d1d", anchor="center")
note("No data", 380, 841, 21, color="#1d1d1d", anchor="center")
box(342, 860, 418, 877, "white", "#cccccc", 1)
for x in range(342, 412, 10):
    segment(x, 877, min(x + 14, 418), 860, "#cccccc", 0.8)

# footer
note("<b>Data source:</b> World Health Organization (2024)", 26, 922, 21.6)
note("OurWorldinData.org/causes-of-death | CC BY", 1324, 922, 21.5, anchor="right")
segment(26, 960, 1334, 960, "#e3e3e3", 1)
note("<b>1. Cardiovascular disease</b>: Cardiovascular diseases cover all diseases of the heart and blood vessels – including heart attacks and strokes,", 25, 998, 19.8)
note("atherosclerosis, ischemic heart disease, hypertensive diseases, cardiomyopathy, rheumatic heart disease, and more. They tend to develop gradually", 25, 1022, 19.8)
note("with age, especially when people have risk factors like high blood pressure, smoking, alcohol use, poor diet, and air pollution.", 25, 1045, 19.8)

fig.update_layout(width=W, height=H, margin=dict(l=0, r=0, t=0, b=0), paper_bgcolor="white", showlegend=False)

# choropleth insists on fetching a topojson even with a custom geojson: hand it an empty one in place
empty_topo = json.dumps({"type": "Topology", "objects": {}, "arcs": []}, separators=(",", ":"))
fig.write_html("out.html", config={"topojsonURL": "data:application/json," + empty_topo + "#", "displayModeBar": False},
               post_script="document.body.style.margin='0';")
